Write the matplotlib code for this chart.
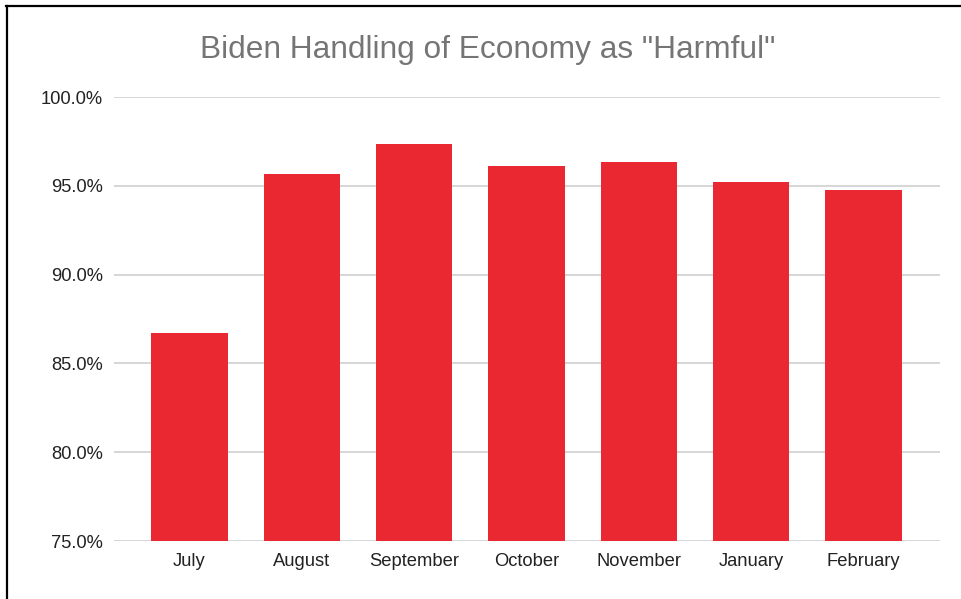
import matplotlib.pyplot as plt
from matplotlib.lines import Line2D
from matplotlib.ticker import FuncFormatter

plt.rcParams.update({"font.family": ["Liberation Sans", "DejaVu Sans"]})

months = ["July", "August", "September", "October", "November", "January", "February"]
harmful_pct = [86.7, 95.65, 97.35, 96.1, 96.35, 95.2, 94.75]
y_ticks = [75, 80, 85, 90, 95, 100]

W, H = 961, 599
fig = plt.figure(figsize=(W / 100, H / 100), dpi=100)
ax = fig.add_axes([114 / W, 1 - 541 / H, (940 - 114) / W, (541 - 97) / H])

x = range(len(months))
ax.bar(x, [v - 75 for v in harmful_pct], bottom=75, width=0.68, color="#ea2832", zorder=3)

ax.set_ylim(75, 100)
ax.set_xlim(-0.672, len(months) - 1 + 0.68)
ax.set_yticks(y_ticks)
ax.yaxis.set_major_formatter(FuncFormatter(lambda v, _: f"{v:.1f}%"))
ax.set_xticks(list(x))
ax.set_xticklabels(months)
ax.grid(axis="y", color="#cccccc", linewidth=1.1, zorder=0)
for s in ax.spines.values():
    s.set_visible(False)
ax.tick_params(axis="both", length=0, labelsize=13.2, colors="#222222")
ax.tick_params(axis="y", pad=8)
ax.tick_params(axis="x", pad=9)

fig.text(488 / W, 1 - 50 / H, 'Biden Handling of Economy as "Harmful"',
         ha="center", va="center", fontsize=22.8, color="#757575")

# frame on the left and top edges
fig.add_artist(Line2D([7 / W, 7 / W], [0, 1 - 6 / H], color="black", linewidth=1.6))
fig.add_artist(Line2D([6 / W, 1], [1 - 6 / H, 1 - 6 / H], color="black", linewidth=1.6))

fig.savefig("out.png", dpi=100, facecolor="white")
